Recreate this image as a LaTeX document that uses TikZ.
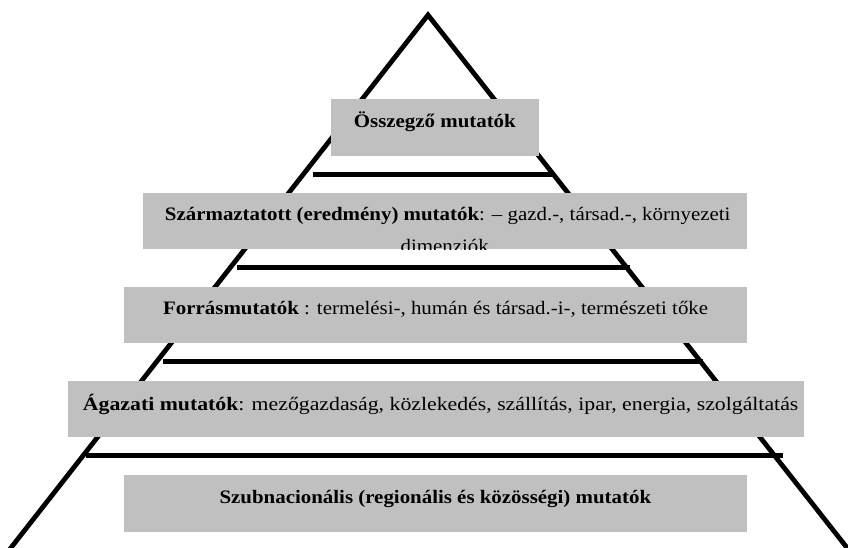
\documentclass[tikz,border=0pt]{standalone}
\usepackage{graphicx}
\usepackage{fontspec}
\setmainfont[FakeStretch=1.1]{Liberation Serif}
\definecolor{boxgray}{RGB}{192,192,192}
\begin{document}
\begin{tikzpicture}[x=1pt,y=-1pt,
  leg/.style={line width=4.8pt, line join=miter},
  bar/.style={line width=5.5pt},
  box/.style={fill=boxgray, draw=none, inner sep=0pt, outer sep=0pt, anchor=north west},
  lbl/.style={anchor=base, inner sep=0pt, font=\fontsize{19}{23}\selectfont}]
\useasboundingbox (0,0) rectangle (848,547);
% pyramid outline
\coordinate (apex) at (428,15);
\coordinate (bl) at (10,549);
\coordinate (br) at (848,549);
\draw[leg] (bl) -- (apex) -- (br);
% horizontal bars
\coordinate (h1l) at (312.7,174.3); \coordinate (h1r) at (555,174.3);
\coordinate (h2l) at (236.7,267.7); \coordinate (h2r) at (630,267.7);
\coordinate (h3l) at (162.7,361.7); \coordinate (h3r) at (703,361.7);
\coordinate (h4l) at (86,455.5);    \coordinate (h4r) at (783,455.5);
\draw[bar] (h1l) -- (h1r);
\draw[bar] (h2l) -- (h2r);
\draw[bar] (h3l) -- (h3r);
\draw[bar] (h4l) -- (h4r);
% boxes
\node[box, minimum width=208.3pt, minimum height=56.2pt] (b1) at (330.7,99.3) {};
\node[box, minimum width=604pt,   minimum height=56pt]   (b2) at (142.7,193.3) {};
\node[box, minimum width=623.3pt, minimum height=56pt]   (b3) at (124,287.3) {};
\node[box, minimum width=735.7pt, minimum height=56pt]   (b4) at (68.3,381) {};
\node[box, minimum width=622.7pt, minimum height=56.7pt] (b5) at (124,475) {};
% texts
\node[lbl] (t1) at ([yshift=-28pt]b1.north) {\textbf{Összegző mutatók}};
\node[lbl] (t2) at ([yshift=-26.7pt,xshift=3pt]b2.north) {\textbf{Származtatott (eredmény) mutatók}: – gazd.-, társad.-, környezeti};
\begin{scope}
\clip (b2.north west) rectangle (b2.south east);
\node[lbl] (t2b) at ([yshift=-59pt]b2.north) {dimenziók};
\end{scope}
\node[lbl] (t3) at ([yshift=-27pt]b3.north) {\textbf{Forrásmutatók} : termelési-, humán és társad.-i-, természeti tőke};
\node[lbl] (t4) at ([yshift=-29pt,xshift=4.5pt]b4.north) {\scalebox{1.042}[1]{\textbf{Ágazati mutatók}: mezőgazdaság, közlekedés, szállítás, ipar, energia, szolgáltatás}};
\node[lbl] (t5) at ([yshift=-28pt]b5.north) {\textbf{Szubnacionális (regionális és közösségi) mutatók}};
\end{tikzpicture}
\end{document}
